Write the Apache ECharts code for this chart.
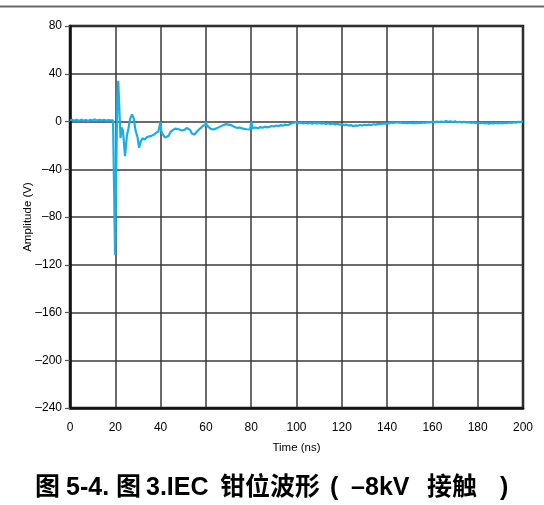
<!DOCTYPE html>
<html>
<head>
<meta charset="utf-8">
<script src="https://cdn.jsdelivr.net/npm/echarts@6/dist/echarts.min.js"></script>
<style>
  html, body { margin: 0; padding: 0; background: #fff; }
  #chart { width: 544px; height: 505px; }
</style>
</head>
<body>
<div id="chart"></div>
<script>
// Clamp waveform, time in ns and amplitude in V
const timeNs = [
  0,1,2,3,4,5,6,7,8,9,10,11,12,13,14,15,16,17,18,19,19.2,
  19.5,19.9,20.4,20.9,21.3,21.8,22.3,22.9,23.4,24.3,25.1,25.7,26.5,27.4,28.1,29,29.8,30.5,31.2,
  32,33,34,35,36,37,38,39,39.8,40,40.3,41,42,42.8,43.5,44.5,45.5,46.4,47.1,48,49.3,50.5,51.5,52.2,
  53,53.8,54.8,55.5,56.5,57.4,58.7,59.8,60,60.3,61,62,63.1,64,65,66,67,68,69,69.8,71,72,73,74,75,76,77,78,79.5,79.9,80.1,80.5,
  81,82,83,84,85,86,87,88,89,90,91,92,93,94,95,96,97,98,99,100,
  101,102,103,104,105,106,107,108,109,110,111,112,113,114,115,116,117,118,119,120,
  121,122,123,124,125,126,127,128,129,130,131,132,133,134,135,136,137,138,139,140,
  141,142,143,144,145,146,147,148,149,150,151,152,153,154,155,156,157,158,159,160,
  161,162,163,164,165,166,167,168,169,170,171,172,173,174,175,176,177,178,179,180,
  181,182,183,184,185,186,187,188,189,190,191,192,193,194,195,196,197,198,199,200
];
const amplitudeV = [
  0.8,1.5,0.6,1.4,0.5,1.6,0.7,1.3,0.4,1.5,0.9,1.8,0.6,1.4,0.8,1.5,0.7,1.2,0.9,1.0,0.8,
  -60,-112,-40,20,34,10,-14,-5,-8,-29,-12,-7,2,6,3,-8,-13,-22,-17,
  -14,-15,-13,-12.5,-12,-11,-9.5,-8.5,-8,0,-8,-11,-13.5,-14.5,-12,-8.5,-7,-6,-5.3,-6.5,-7.5,-7,-5.5,-5,
  -7,-10,-11,-9.5,-7.5,-6,-3.5,-2.8,0,-3,-4.5,-6,-6.7,-6.2,-5.5,-4.5,-3.5,-2.8,-2.2,-1.9,-3,-4,-4.8,-5.3,-5,-5.8,-6.2,-6.5,-6.7,-6,0,-5.5,
  -5.8,-5,-5.6,-4.7,-5.2,-4.3,-4.9,-4.5,-3.8,-4.2,-3.4,-3.9,-3,-3.5,-2.6,-3.1,-2.3,-1.5,-0.8,-0.5,
  -1.4,-0.9,-1.6,-1.0,-1.7,-1.2,-1.8,-1.1,-1.6,-1.1,-1.9,-1.4,-2.1,-1.5,-2.2,-1.7,-2.4,-1.9,-2.6,-2.3,
  -3.0,-2.6,-3.4,-3.0,-3.9,-3.3,-3.6,-2.9,-3.4,-2.7,-3.1,-2.6,-2.9,-2.3,-2.6,-2.0,-2.3,-1.6,-1.9,-1.2,
  -1.5,-0.9,-1.2,-0.6,-1.0,-0.7,-1.3,-0.9,-1.4,-1.0,-1.5,-1.1,-1.4,-0.9,-1.3,-0.8,-1.1,-0.5,-0.8,-0.3,
  -0.6,-0.1,-0.5,0.0,-0.4,0.3,-0.2,0.2,-0.4,0.1,-0.6,-0.2,-0.7,-0.3,-0.8,-0.5,-1.1,-0.7,-1.3,-0.9,
  -1.5,-1.1,-1.7,-1.2,-1.8,-1.3,-1.7,-1.1,-1.6,-1.2,-1.6,-1.0,-1.4,-0.8,-1.2,-0.6,-0.9,-0.3,-0.5,0.3
];
const yTicks = [-240, -200, -160, -120, -80, -40, 0, 40, 80];
const xTicks = [0, 20, 40, 60, 80, 100, 120, 140, 160, 180, 200];

// Caption pieces, each placed at its own left edge
const captionParts = ['图', '5-4.', '图', '3.IEC', '钳位波形', '(', '–', '8kV', '接触', ')'];
const captionLeft = [35, 66, 116, 146, 220, 330, 351, 365, 427, 500];

const trace = timeNs.map((t, i) => [t, amplitudeV[i]]);
const dash = v => String(v).replace('-', '\u2013');
const labelFont = { fontFamily: 'Liberation Sans, Arial, sans-serif', fontSize: 12, color: '#000' };

const captionGraphics = captionParts.map((s, i) => ({
  type: 'text',
  x: captionLeft[i], y: 488,
  style: {
    text: s,
    font: 'bold 25px "Liberation Sans", "Noto Sans CJK SC", sans-serif',
    fill: '#000',
    textVerticalAlign: 'middle'
  }
}));

const chart = echarts.init(document.getElementById('chart'), null, { renderer: 'canvas' });
chart.setOption({
  animation: false,
  backgroundColor: '#fff',
  grid: {
    left: 70, right: 21, top: 26, bottom: 97,
    show: true, borderColor: '#111', borderWidth: 2.5, backgroundColor: 'transparent'
  },
  xAxis: {
    type: 'value',
    min: xTicks[0], max: xTicks[xTicks.length - 1], interval: 20,
    name: 'Time (ns)', nameLocation: 'middle', nameGap: 34, nameMoveOverlap: false,
    nameTextStyle: Object.assign({}, labelFont, { fontSize: 11.5 }),
    axisLine: { show: true, onZero: false, lineStyle: { color: '#111', width: 2.5 } },
    axisTick: { show: false },
    axisLabel: Object.assign({ margin: 14, formatter: dash }, labelFont),
    splitLine: { show: true, lineStyle: { color: '#3a3a3a', width: 1.5 } }
  },
  yAxis: {
    type: 'value',
    min: yTicks[0], max: yTicks[yTicks.length - 1], interval: 40,
    name: 'Amplitude (V)', nameLocation: 'middle', nameGap: 36, nameRotate: 90, nameMoveOverlap: false,
    nameTextStyle: Object.assign({}, labelFont, { fontSize: 11.5 }),
    axisLine: { show: true, onZero: false, lineStyle: { color: '#111', width: 2.5 } },
    axisTick: { show: true, inside: false, length: 5, lineStyle: { color: '#555', width: 1.2 } },
    axisLabel: Object.assign({ margin: 8, formatter: dash }, labelFont),
    splitLine: { show: true, lineStyle: { color: '#3a3a3a', width: 1.5 } }
  },
  series: [{
    type: 'line',
    data: trace,
    showSymbol: false,
    lineStyle: { color: '#19aee6', width: 2.2 },
    z: 3
  }],
  graphic: [
    {
      type: 'line',
      shape: { x1: 0, y1: 6.5, x2: 544, y2: 6.5 },
      style: { stroke: '#6a6a6a', lineWidth: 2 }
    }
  ].concat(captionGraphics)
});
</script>
</body>
</html>
